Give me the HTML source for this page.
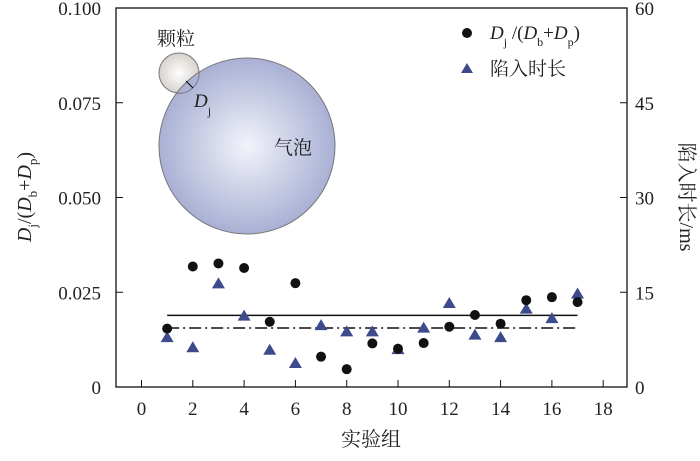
<!DOCTYPE html>
<html><head><meta charset="utf-8"><style>
body{margin:0;background:#fff}
svg text{font-family:"Liberation Serif","Noto Serif CJK SC",serif;fill:#222}
</style></head><body>
<svg id="chart" width="700" height="456" viewBox="0 0 700 456" xmlns="http://www.w3.org/2000/svg">
<defs>
<radialGradient id="bub" cx="0.5" cy="0.5" r="0.5"><stop offset="0" stop-color="#f2f3fa"/><stop offset="1" stop-color="#a9b0d4"/></radialGradient>
<radialGradient id="par" cx="0.5" cy="0.5" r="0.5"><stop offset="0" stop-color="#ffffff"/><stop offset="1" stop-color="#d8d2cc"/></radialGradient>
</defs>
<g id="inset">
<circle cx="179" cy="73" r="20" fill="url(#par)" stroke="#777" stroke-width="1"/>
<circle cx="247" cy="146" r="88" fill="url(#bub)" stroke="#777" stroke-width="1"/>
<path d="M176 93 A20 20 0 0 0 199 71" fill="none" stroke="#777" stroke-width="1"/>
<line x1="186" y1="81" x2="193" y2="88" stroke="#000" stroke-width="1"/>
<text x="157" y="45" font-size="19">颗粒</text>
<text x="274" y="154" font-size="19">气泡</text>
<text x="194" y="107" font-size="19" font-style="italic">D<tspan font-size="12" font-style="normal" dy="8">j</tspan></text>
</g>
<g id="axes"></g>
<g id="marks"></g>
<g id="legend">
<circle cx="467" cy="33" r="5" fill="#111"/>
<text x="490" y="39" font-size="19"><tspan font-style="italic">D</tspan><tspan font-size="12" dy="7">j</tspan><tspan dy="-7"> /(</tspan><tspan font-style="italic">D</tspan><tspan font-size="12" dy="7">b</tspan><tspan dy="-7">+</tspan><tspan font-style="italic">D</tspan><tspan font-size="12" dy="7">p</tspan><tspan dy="-7">)</tspan></text>
<polygon points="467,63 473,73 461,73" fill="#3e4a8c"/>
<text x="490" y="75" font-size="19">陷入时长</text>
</g>
</svg>
<script>
const groups = [1,2,3,4,5,6,7,8,9,10,11,12,13,14,15,16,17];
const ratioValues = [0.0154,0.0318,0.0326,0.0314,0.0172,0.0274,0.0080,0.0047,0.0115,0.0101,0.0116,0.0159,0.0190,0.0167,0.0229,0.0237,0.0224];
const timeValues = [7.9,6.3,16.4,11.3,5.9,3.8,9.8,8.8,8.8,6.0,9.4,13.3,8.3,7.9,12.4,10.9,14.8];
const solidLineValue = 0.0189;
const dashLineValue = 0.01557;
const xTicks = [0,2,4,6,8,10,12,14,16,18];
const yTicks = [0,0.025,0.05,0.075,0.1];
const yTickLabels = ["0","0.025","0.050","0.075","0.100"];
const y2Ticks = [0,15,30,45,60];

const L=116,R=627,T=8,B=387;
const xs = v => 141.5 + v*25.65;
const ys = v => B - v/0.1*(B-T);
const y2s = v => B - v/60*(B-T);
const NS="http://www.w3.org/2000/svg";
function mk(tag,attrs,parent){const e=document.createElementNS(NS,tag);for(const k in attrs)e.setAttribute(k,attrs[k]);parent.appendChild(e);return e;}
const ax=document.getElementById('axes'), mg=document.getElementById('marks');
let frame=mk('rect',{x:L,y:T,width:R-L,height:B-T,fill:'none',stroke:'#111','stroke-width':1.3},ax);


xTicks.forEach(v=>{
  let t=mk('line',{x1:xs(v),x2:xs(v),y1:B,y2:B-7,stroke:'#111'},ax);
  
  
  let l=mk('text',{x:xs(v),y:B+28,'font-size':19,'text-anchor':'middle'},ax);l.textContent=v;
  
  
});
yTicks.forEach((v,i)=>{
  let t=mk('line',{x1:L,x2:L+7,y1:ys(v),y2:ys(v),stroke:'#111'},ax);
  
  
  let l=mk('text',{x:L-15,y:ys(v)+7,'font-size':19,'text-anchor':'end'},ax);l.textContent=yTickLabels[i];
  
  
});
y2Ticks.forEach(v=>{
  let t=mk('line',{x1:R,x2:R-7,y1:y2s(v),y2:y2s(v),stroke:'#111'},ax);
  
  
  let l=mk('text',{x:R+8,y:y2s(v)+7,'font-size':19},ax);l.textContent=v;
  
  
});
let xt=mk('text',{x:371,y:446,'font-size':20,'text-anchor':'middle'},ax);xt.textContent='实验组';


let yt=mk('text',{transform:'translate(31,197) rotate(-90)','font-size':20,'text-anchor':'middle'},ax);
yt.innerHTML='<tspan font-style="italic">D</tspan><tspan font-size="13" dy="6">j</tspan><tspan dy="-6">/(</tspan><tspan font-style="italic">D</tspan><tspan font-size="13" dy="6">b</tspan><tspan dy="-6">+</tspan><tspan font-style="italic">D</tspan><tspan font-size="13" dy="6">p</tspan><tspan dy="-6">)</tspan>';


let y2t=mk('text',{transform:'translate(680,197) rotate(90)','font-size':20,'text-anchor':'middle'},ax);y2t.textContent='陷入时长/ms';


let sl=mk('line',{x1:xs(1),x2:xs(17),y1:ys(solidLineValue),y2:ys(solidLineValue),stroke:'#111','stroke-width':1.5},mg);


let dl=mk('line',{x1:xs(1),x2:xs(17),y1:ys(dashLineValue),y2:ys(dashLineValue),stroke:'#111','stroke-width':1.5,'stroke-dasharray':'12 4 2 4'},mg);


groups.forEach((g,i)=>{
  const x=xs(g), y=y2s(timeValues[i]);
  let p=mk('polygon',{points:`${x},${y-6} ${x+6.5},${y+5} ${x-6.5},${y+5}`,fill:'#3e4a8c'},mg);
  
  
});
groups.forEach((g,i)=>{
  let c=mk('circle',{cx:xs(g),cy:ys(ratioValues[i]),r:5,fill:'#111'},mg);
  
  
});
</script>
</body></html>
